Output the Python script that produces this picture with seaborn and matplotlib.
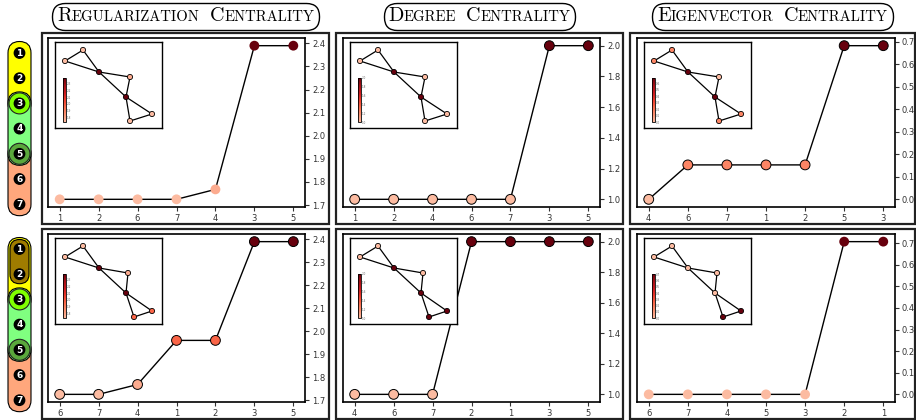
import numpy as np
import pandas as pd
import matplotlib
matplotlib.use("Agg")
import matplotlib.pyplot as plt
import seaborn as sns
from matplotlib.colors import ListedColormap, Normalize
from matplotlib.cm import ScalarMappable
from matplotlib.patches import FancyBboxPatch, Rectangle, Circle
from matplotlib.offsetbox import TextArea, HPacker, AnnotationBbox
from matplotlib.ticker import MultipleLocator

sns.set_theme(style="white")

# ---- data ----
titles = ["Regularization Centrality", "Degree Centrality", "Eigenvector Centrality"]

# row 1: hyperedges {1,2,3},{3,4,5},{5,6,7}
reg_nodes_1 = ["1", "2", "6", "7", "4", "3", "5"]
reg_vals_1 = [1.725, 1.725, 1.725, 1.725, 1.768, 2.39, 2.39]
deg_nodes_1 = ["1", "2", "4", "6", "7", "3", "5"]
deg_vals_1 = [1.0, 1.0, 1.0, 1.0, 1.0, 2.0, 2.0]
eig_nodes_1 = ["4", "6", "7", "1", "2", "5", "3"]
eig_vals_1 = [0.0, 0.153, 0.153, 0.153, 0.153, 0.683, 0.683]

# row 2: extra hyperedge {1,2}
reg_nodes_2 = ["6", "7", "4", "1", "2", "3", "5"]
reg_vals_2 = [1.725, 1.725, 1.768, 1.96, 1.96, 2.39, 2.39]
deg_nodes_2 = ["4", "6", "7", "2", "1", "3", "5"]
deg_vals_2 = [1.0, 1.0, 1.0, 2.0, 2.0, 2.0, 2.0]
eig_nodes_2 = ["6", "7", "4", "5", "3", "2", "1"]
eig_vals_2 = [0.0, 0.0, 0.0, 0.0, 0.0, 0.707, 0.707]

# graph (inset) layout per row, and clique edges
layout_1 = {"1": (10, 19), "2": (28, 8), "3": (44, 30), "4": (75, 35),
            "5": (71, 55), "6": (97, 72), "7": (75, 79)}
layout_2 = {"6": (10, 19), "7": (28, 8), "5": (44, 30), "4": (73, 35),
            "3": (71, 55), "1": (97, 73), "2": (79, 79)}
edges = [("1", "2"), ("1", "3"), ("2", "3"), ("3", "4"), ("3", "5"),
         ("4", "5"), ("5", "6"), ("5", "7"), ("6", "7")]

hyperedges_1 = [(1, 3, "#ffff00"), (5, 7, "#ffa77c"), (3, 5, "#80ff80")]
hyperedges_2 = hyperedges_1 + [(1, 2, "#a07c00")]

panels = [
    [(reg_nodes_1, reg_vals_1, False, 0.1), (deg_nodes_1, deg_vals_1, True, 0.2), (eig_nodes_1, eig_vals_1, True, 0.1)],
    [(reg_nodes_2, reg_vals_2, True, 0.1), (deg_nodes_2, deg_vals_2, True, 0.2), (eig_nodes_2, eig_vals_2, False, 0.1)],
]
layouts = [layout_1, layout_2]
hyperedges = [hyperedges_1, hyperedges_2]

# ---- figure ----
W, H = 916, 420
fig = plt.figure(figsize=(W / 100, H / 100), dpi=100)
cmap = ListedColormap(plt.get_cmap("Reds")(np.linspace(0.25, 1.0, 256)))

cols_x = [(48, 305), (343, 600), (637, 895)]
rows_y = [(38, 207), (234, 402)]
outer_x = [(42, 329), (336, 623), (630, 915)]
outer_y = [(33, 224), (229, 419)]


def fx(px):
    return px / W


def fy(py):
    return 1 - py / H


for r in range(2):
    for c in range(3):
        ox0, ox1 = outer_x[c]
        oy0, oy1 = outer_y[r]
        fig.add_artist(Rectangle((fx(ox0), fy(oy1)), fx(ox1 - ox0), (oy1 - oy0) / H,
                                 transform=fig.transFigure, fill=False, ec="#222222", lw=1.6))
        x0, x1 = cols_x[c]
        y0, y1 = rows_y[r]
        ax = fig.add_axes([fx(x0), fy(y1), fx(x1 - x0), (y1 - y0) / H])
        nodes, vals, edge, step = panels[r][c]
        norm = Normalize(min(vals), max(vals))
        df = pd.DataFrame({"node": nodes, "value": vals})
        sns.lineplot(data=df, x="node", y="value", sort=False, color="black", lw=1,
                     errorbar=None, ax=ax, zorder=1)
        sns.scatterplot(data=df, x="node", y="value", hue="value", palette=cmap, hue_norm=norm,
                        s=50, edgecolor="black" if edge else "none", linewidth=0.7,
                        legend=False, ax=ax, zorder=2)
        ax.set_xlabel("")
        ax.set_ylabel("")
        ax.yaxis.set_major_locator(MultipleLocator(step))
        ax.yaxis.tick_right()
        ax.tick_params(axis="both", which="major", labelsize=6, colors="#333333",
                       length=3, width=0.8, direction="out", pad=2)
        ax.tick_params(axis="y", left=False, right=True, labelleft=False, labelright=True)
        ax.tick_params(axis="x", bottom=True)
        for sp in ax.spines.values():
            sp.set_color("black")
            sp.set_linewidth(1.2)

        # inset with the graph
        ins = fig.add_axes([fx(x0 + 7), fy(y0 + 4 + 86), fx(107), 86 / H])
        lay = layouts[r]
        for a, b in edges:
            ins.plot([lay[a][0], lay[b][0]], [lay[a][1], lay[b][1]], color="black", lw=0.9, zorder=1)
        val_of = dict(zip(nodes, vals))
        gdf = pd.DataFrame({"x": [lay[n][0] for n in lay], "y": [lay[n][1] for n in lay],
                            "value": [val_of[n] for n in lay]})
        sns.scatterplot(data=gdf, x="x", y="y", hue="value", palette=cmap, hue_norm=norm,
                        s=14, edgecolor="black", linewidth=0.6, legend=False, ax=ins, zorder=2)
        ins.set_xlim(0, 107)
        ins.set_ylim(86, 0)
        ins.set_xticks([])
        ins.set_yticks([])
        ins.set_xlabel("")
        ins.set_ylabel("")
        for sp in ins.spines.values():
            sp.set_color("black")
            sp.set_linewidth(1.0)
        cax = ins.inset_axes([0.072, 0.066, 0.031, 0.52])
        cb = fig.colorbar(ScalarMappable(norm=norm, cmap=cmap), cax=cax)
        cb.outline.set_linewidth(0.6)
        cb.outline.set_edgecolor("black")
        cax.tick_params(labelsize=2, colors="#666666", length=0, pad=0.5)

# ---- titles in small caps inside rounded boxes ----
for c, t in enumerate(titles):
    words = []
    for w in t.split():
        parts = [TextArea(w[0].upper(), textprops=dict(family="cmr10", fontsize=14.5, color="black")),
                 TextArea(w[1:].upper(), textprops=dict(family="cmr10", fontsize=10.6, color="black"))]
        words.append(HPacker(children=parts, align="baseline", pad=0, sep=0))
    box = HPacker(children=words, align="baseline", pad=0, sep=7)
    cx = (outer_x[c][0] + outer_x[c][1]) / 2
    ab = AnnotationBbox(box, (fx(cx), fy(16.5)), xycoords="figure fraction", frameon=True,
                        pad=0, fontsize=10,
                        bboxprops=dict(boxstyle="round,pad=0.35,rounding_size=0.95",
                                       ec="black", lw=1.0, fc="white"))
    fig.add_artist(ab)

# ---- left strip: hypergraph node column ----
strip = fig.add_axes([0, 0, fx(40), 1])
strip.set_xlim(0, 40)
strip.set_ylim(H, 0)
strip.axis("off")
row_start = [53, 249]
node_gap = 25.2
xc = 19.5
for r in range(2):
    ys = [row_start[r] + node_gap * i for i in range(7)]
    for a, b, col in hyperedges[r]:
        inset = 0 if col != "#a07c00" else 2
        strip.add_patch(FancyBboxPatch((xc - 11.5 + inset, ys[a - 1] - 11.5 + inset),
                                       23 - 2 * inset, ys[b - 1] - ys[a - 1] + 23 - 2 * inset,
                                       boxstyle="round,pad=0,rounding_size=%.1f" % (11.5 - inset),
                                       fc=col, ec="black", lw=0.8))
    strip.add_patch(Circle((xc, ys[2]), 10.5, fc="#80ff00", ec="#222222", lw=0.8))
    strip.add_patch(Circle((xc, ys[4]), 10.5, fc="#5aa83c", ec="#222222", lw=0.8))
    for i, yv in enumerate(ys):
        strip.add_patch(Circle((xc, yv), 5.2, fc="black", ec="black"))
        strip.text(xc, yv + 0.3, str(i + 1), color="white", fontsize=6.5, fontweight="bold",
                   ha="center", va="center")

fig.savefig("out.png", dpi=100)
